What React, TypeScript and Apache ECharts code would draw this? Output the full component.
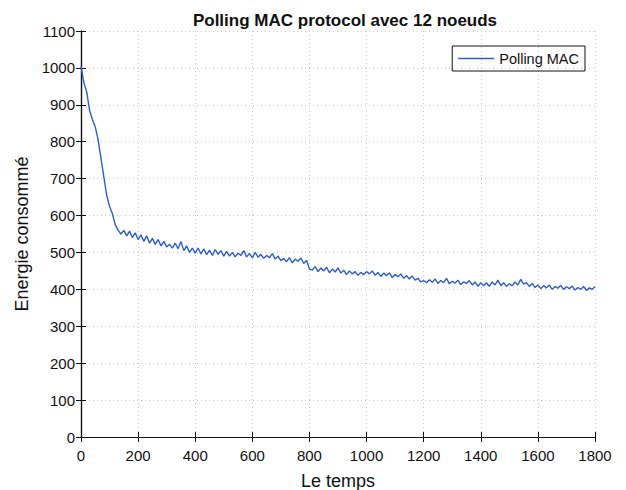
import React, { useEffect, useRef } from "react";
import * as echarts from "echarts";

const timeStep = 10;
const energy: number[] = [
  1005, 960, 935, 885, 860, 840, 805, 755, 705, 655, 625, 605, 575, 560, 550, 560,
  545, 558, 540, 553, 535, 548, 530, 545, 525, 538, 522, 535, 518, 530, 515,
  522, 512, 525, 510, 530, 505, 518, 500, 512, 498, 512, 496, 510, 494, 506, 492, 508, 495, 505, 490,
  503, 490, 500, 488, 498, 492, 505, 488, 497, 485, 500, 487, 495, 484, 492, 486, 497, 482, 490, 478,
  484, 475, 486, 472, 482, 476, 485, 470, 478, 455,
  452, 462, 448, 458, 450, 460, 445, 455, 447, 458, 444, 452, 440, 450, 442, 448, 438, 446, 440, 448,
  442, 450, 438, 446, 435, 444, 437, 445, 432, 440, 434, 442, 430, 437, 428, 436, 425, 430, 420, 424,
  418, 426, 419, 428, 416, 424, 418, 430, 415, 422, 417, 425, 413, 420, 416, 424, 412, 420, 408, 418,
  410, 418, 408, 420, 412, 425, 410, 418, 408, 415, 410, 420, 412, 427, 414, 418, 408, 416, 405, 412,
  402, 410, 404, 412, 400, 408, 403, 411, 400, 407, 402, 409, 398, 405, 400, 408, 397, 404, 400, 408,
];
const seriesName = "Polling MAC";
const titleText = "Polling MAC protocol avec 12 noeuds";
const xName = "Le temps";
const yName = "Energie consommé";

export default function App() {
  const ref = useRef<HTMLDivElement>(null);
  useEffect(() => {
    if (!ref.current) return;
    const chart = echarts.init(ref.current, undefined, { renderer: "svg" });
    const data = energy.map((v, i) => [i * timeStep, v]);
    const font = "'Liberation Sans', Arial, sans-serif";
    const axisCommon = {
      axisLine: { show: true, lineStyle: { color: "#111", width: 1.2 } },
      axisTick: { show: true, inside: true, length: 5, lineStyle: { color: "#111" } },
    };
    const plain = (v: number) => String(v);
    chart.setOption({
      animation: false,
      backgroundColor: "#fff",
      textStyle: { fontFamily: font },
      title: {
        text: titleText,
        left: 340,
        textAlign: "center",
        top: 7,
        textStyle: { fontSize: 17, fontWeight: "bold", color: "#111", fontFamily: font },
      },
      legend: {
        right: 41,
        top: 46,
        orient: "vertical",
        borderColor: "#111",
        borderWidth: 1,
        borderRadius: 0,
        padding: [5, 6, 5, 6],
        icon: "rect",
        itemWidth: 36,
        itemHeight: 1.5,
        itemGap: 4,
        textStyle: { fontSize: 14.5, color: "#111", fontFamily: font },
        data: [seriesName],
      },
      grid: { left: 81, right: 31, top: 31, bottom: 53, outerBoundsMode: "none", containLabel: false },
      xAxis: [
        {
          type: "value",
          min: 0,
          max: 1800,
          interval: 200,
          name: xName,
          nameLocation: "middle",
          nameGap: 35,
          nameTextStyle: { fontSize: 18, color: "#111", fontFamily: font },
          axisLabel: { fontSize: 15, color: "#111", margin: 11, fontFamily: font, formatter: plain },
          splitLine: { show: true, lineStyle: { color: "#c8c8c8", type: [1, 3] } },
          ...axisCommon,
        },
        {
          type: "value",
          position: "top",
          min: 0,
          max: 1800,
          interval: 200,
          axisLabel: { show: false },
          splitLine: { show: false },
          ...axisCommon,
        },
      ],
      yAxis: [
        {
          type: "value",
          min: 0,
          max: 1100,
          interval: 100,
          name: yName,
          nameLocation: "middle",
          nameGap: 50,
          nameTextStyle: { fontSize: 18, color: "#111", fontFamily: font },
          axisLabel: { fontSize: 15, color: "#111", margin: 6, fontFamily: font, formatter: plain },
          splitLine: { show: true, lineStyle: { color: "#c8c8c8", type: [1, 3] } },
          ...axisCommon,
        },
        {
          type: "value",
          position: "right",
          min: 0,
          max: 1100,
          interval: 100,
          axisLabel: { show: false },
          splitLine: { show: false },
          ...axisCommon,
        },
      ],
      series: [
        {
          name: seriesName,
          type: "line",
          data,
          showSymbol: false,
          symbol: "none",
          lineStyle: { color: "#2f5fc4", width: 1.4 },
          itemStyle: { color: "#2f5fc4" },
        },
      ],
    });
    return () => chart.dispose();
  }, []);
  return (
    <div
      ref={ref}
      style={{ position: "absolute", left: 0, top: 0, width: 626, height: 490 }}
    />
  );
}
